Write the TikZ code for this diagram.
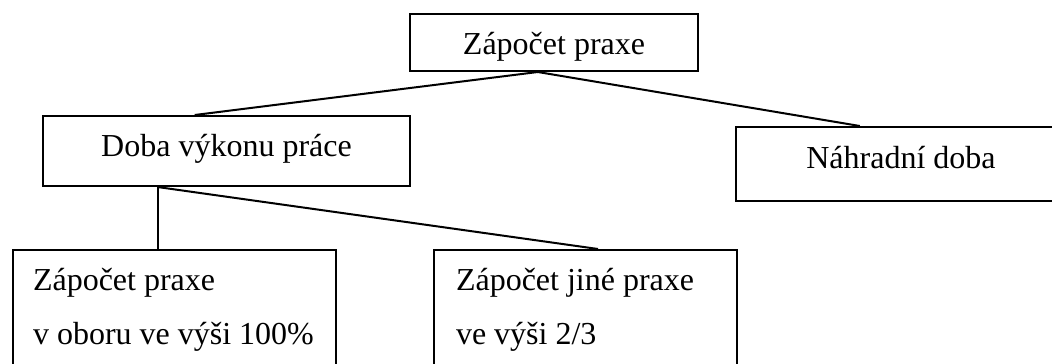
\documentclass[tikz,border=0pt]{standalone}
\usepackage{fontspec}
\setmainfont{Liberation Serif}
\usetikzlibrary{calc}
\begin{document}
\begin{tikzpicture}[x=1pt,y=-1pt,
  box/.style={draw,line width=2pt,rectangle,inner sep=0pt,font=\fontsize{32}{38}\selectfont},
  lowbox/.style={draw,line width=2pt,rectangle,anchor=north west,inner ysep=0pt,align=left,
    font=\fontsize{32}{54}\selectfont,text height=40pt,text depth=200pt},
  conn/.style={line width=2pt}]
\useasboundingbox (0,0) rectangle (1052,364);
\clip (0,0) rectangle (1052,364);
\node[box,minimum width=288pt,minimum height=57pt,text height=30pt,text depth=7pt] (top) at (554,42.5) {Zápočet praxe};
\node[box,minimum width=367pt,minimum height=70pt,text height=24pt,text depth=14pt] (doba) at (226.5,151) {Doba výkonu práce};
\node[box,minimum width=330pt,minimum height=74pt,text height=23pt,text depth=14pt] (nahr) at (901,164) {Náhradní doba};
\node[lowbox,inner xsep=20pt,text width=283pt] (b1) at (12,249) {\spaceskip=0pt\xspaceskip=0pt Zápočet~praxe\\v~oboru~ve~výši~100\%};
\node[lowbox,inner xsep=22pt,text width=259pt] (b2) at (433,249) {\spaceskip=0pt\xspaceskip=0pt Zápočet~jiné~praxe\\ve~výši~2/3};
\coordinate (tb) at ($(top.south west)!0.444!(top.south east)$);
\coordinate (db) at ($(doba.south west)!0.313!(doba.south east)$);
\draw[conn] (tb) -- ($(doba.north west)!0.414!(doba.north east)$);
\draw[conn] (tb) -- ($(nahr.north west)!0.376!(nahr.north east)$);
\draw[conn] (db) -- (db |- b1.north);
\draw[conn] (db) -- ($(b2.north west)!0.541!(b2.north east)$);
\end{tikzpicture}
\end{document}
